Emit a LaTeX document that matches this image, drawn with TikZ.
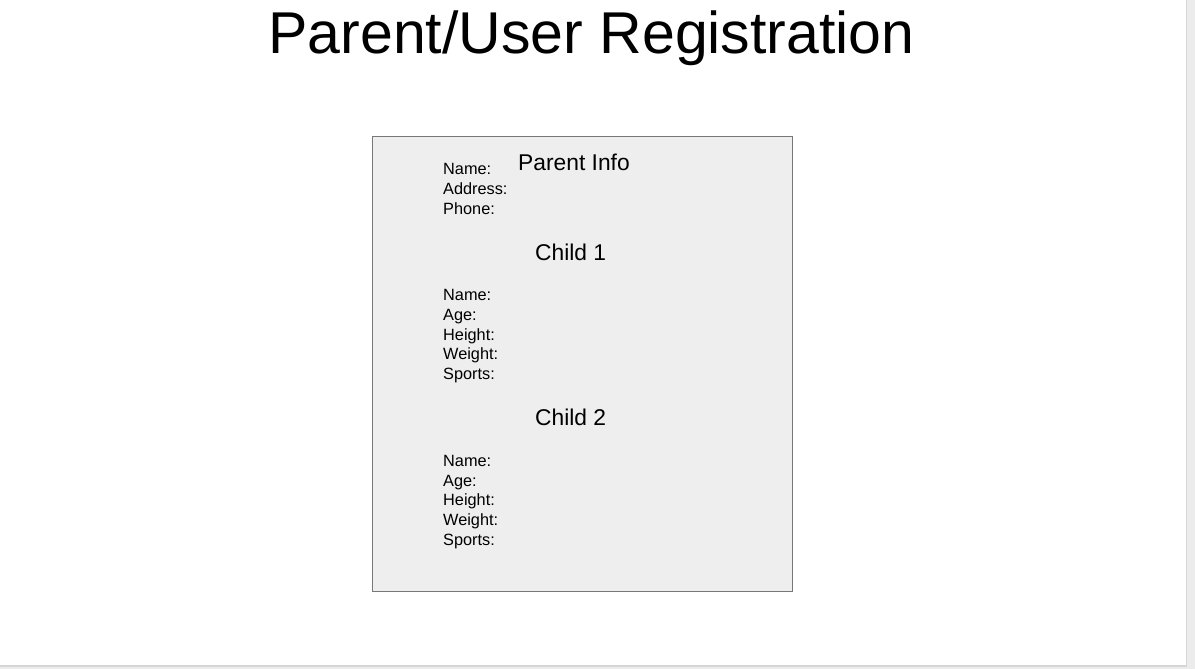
\documentclass[tikz,border=0pt]{standalone}
\usepackage{fontspec}
\setmainfont{Liberation Sans}
\definecolor{outer}{HTML}{ECECEC}
\definecolor{shadow}{HTML}{D6D6D6}
\definecolor{panel}{HTML}{EEEEEE}
\definecolor{panelline}{HTML}{777777}
\begin{document}
\begin{tikzpicture}[x=1pt,y=-1pt,
  lbl/.style={anchor=base west,inner sep=0pt,font=\fontsize{16.3}{20}\selectfont},
  head/.style={anchor=base,inner sep=0pt,font=\fontsize{22.8}{27}\selectfont},
  field/.style={anchor=north west,inner sep=0pt,align=left,font=\fontsize{16.3}{19.8}\selectfont}]
\useasboundingbox (0,0) rectangle (1195,669);
\fill[outer] (0,0) rectangle (1195,669);
\fill[shadow] (0,0) rectangle (1187,666.5);
\fill[white] (0,0) rectangle (1185.5,664.5);
\node[anchor=base,inner sep=0pt,font=\fontsize{59}{70}\selectfont] (title) at (591.5,54) {Parent/User Registration};
\node[draw=panelline,fill=panel,line width=1.2pt,minimum width=420pt,minimum height=455pt,inner sep=0pt,anchor=north west] (panel) at (372,136) {};
\node[head,anchor=base west] (pinfo) at (518,170) {Parent Info};
\node[lbl] (pname) at (443,174.5) {Name:};
\node[lbl] (paddr) at (443,194) {Address:};
\node[lbl] (pphone) at (443,214) {Phone:};
\node[head,anchor=base west] (c1) at (535,260) {Child 1};
\node[lbl] (c1a) at (443,300) {Name:};
\node[lbl] (c1b) at (443,320) {Age:};
\node[lbl] (c1c) at (443,340) {Height:};
\node[lbl] (c1d) at (443,359.5) {Weight:};
\node[lbl] (c1e) at (443,379) {Sports:};
\node[head,anchor=base west] (c2) at (535,425) {Child 2};
\node[lbl] (c2a) at (443,466) {Name:};
\node[lbl] (c2b) at (443,486) {Age:};
\node[lbl] (c2c) at (443,505.5) {Height:};
\node[lbl] (c2d) at (443,525) {Weight:};
\node[lbl] (c2e) at (443,545) {Sports:};
\end{tikzpicture}
\end{document}
